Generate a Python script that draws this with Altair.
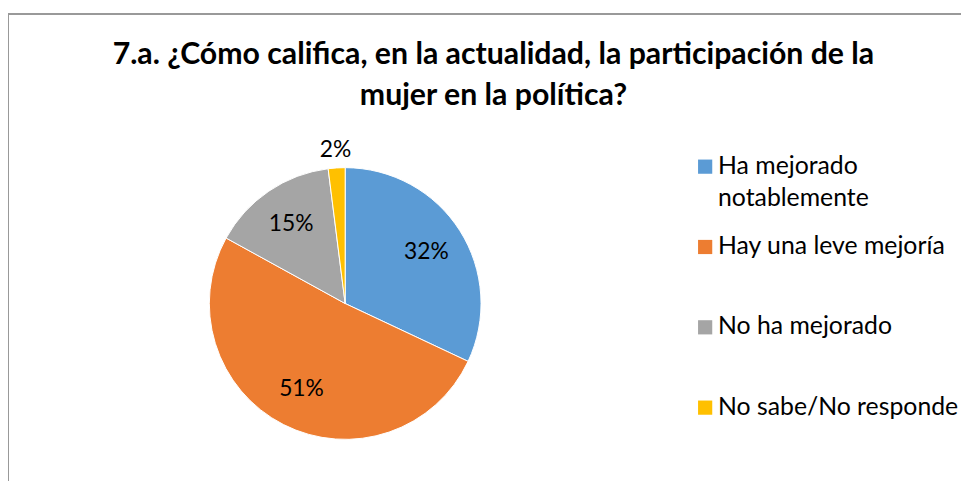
import altair as alt
import pandas as pd

categories = ["Ha mejorado notablemente", "Hay una leve mejoría", "No ha mejorado", "No sabe/No responde"]
legend_text = ["Ha mejorado\nnotablemente", "Hay una leve mejoría", "No ha mejorado", "No sabe/No responde"]
percentages = [32, 51, 15, 2]
slice_order = [0, 1, 2, 3]
colors = ["#5B9BD5", "#ED7D31", "#A5A5A5", "#FFC000"]

title_lines = ["7.a. ¿Cómo califica, en la actualidad, la participación de la", "mujer en la política?"]

FONT = "Lato"

df = pd.DataFrame({
    "cat": categories,
    "pct": percentages,
    "order": slice_order,
    "legend": legend_text,
})

CX, CY = 340, 296

base = alt.Chart(df).transform_window(
    cum="sum(pct)", sort=[alt.SortField("order")], frame=[None, 0]
).transform_calculate(
    start="datum.cum - datum.pct",
    mid="datum.cum - datum.pct / 2",
    lbl="datum.pct + '%'",
)

theta_scale = alt.Scale(domain=[0, 100])
color_scale = alt.Scale(domain=categories, range=colors)

pie = base.mark_arc(outerRadius=137, stroke="white", strokeWidth=1).encode(
    theta=alt.Theta("start:Q", scale=theta_scale),
    theta2="cum:Q",
    color=alt.Color("cat:N", scale=color_scale, legend=None),
    x=alt.value(CX),
    y=alt.value(CY),
)

inner_labels = base.transform_filter("datum.pct >= 5").mark_text(
    radius=97, font=FONT, fontSize=23, color="#000000"
).encode(
    theta=alt.Theta("mid:Q", scale=theta_scale),
    text="lbl:N",
    x=alt.value(CX),
    y=alt.value(CY),
)

outer_labels = base.transform_filter("datum.pct < 5").mark_text(
    radius=155, font=FONT, fontSize=23, color="#000000"
).encode(
    theta=alt.Theta("mid:Q", scale=theta_scale),
    text="lbl:N",
    x=alt.value(CX),
    y=alt.value(CY),
)

legend_y = alt.Y("order:O", axis=None, scale=alt.Scale(type="point", range=[158, 401], padding=0))

legend_sym = alt.Chart(df).mark_square(size=205, opacity=1).encode(
    y=legend_y,
    x=alt.value(703),
    color=alt.Color("cat:N", scale=color_scale, legend=None),
)

legend_txt = alt.Chart(df).mark_text(
    align="left", baseline="top", dy=-13, lineBreak="\n", lineHeight=33,
    font=FONT, fontSize=25, color="#000000"
).encode(
    y=legend_y,
    x=alt.value(716),
    text="legend:N",
)

frame_left = alt.Chart(df).mark_rule(color="#999999", strokeWidth=1.5).encode(
    x=alt.value(0), y=alt.value(4), y2=alt.value(475)
)
frame_top = alt.Chart(df).mark_rule(color="#999999", strokeWidth=1.5).encode(
    x=alt.value(0), x2=alt.value(961), y=alt.value(4)
)

chart = alt.layer(
    frame_left, frame_top, pie, inner_labels, outer_labels, legend_sym, legend_txt
).properties(
    width=961,
    height=475,
    autosize=alt.AutoSizeParams(type="none"),
    padding=0,
    title=alt.TitleParams(
        text=title_lines,
        font=FONT,
        fontSize=30.5,
        fontWeight="bold",
        color="#000000",
        anchor="middle",
        lineHeight=41,
        baseline="alphabetic",
        dy=130,
        dx=9,
    ),
).configure_view(stroke=None)

chart.save("out.html", embed_options={"renderer": "svg", "actions": False})
